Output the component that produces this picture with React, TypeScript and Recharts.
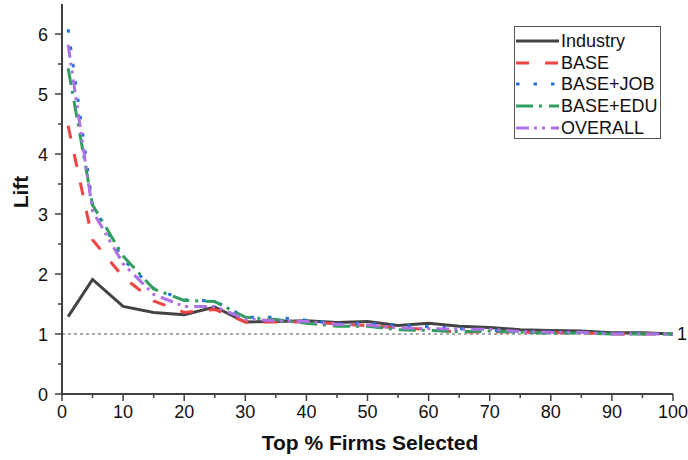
import React from "react";
import {
  LineChart,
  Line,
  XAxis,
  YAxis,
  ReferenceLine,
} from "recharts";

// top % of firms selected
const pct = [1, 5, 10, 15, 20, 25, 30, 35, 40, 45, 50, 55, 60, 65, 70, 75, 80, 85, 90, 95, 100];

const industry = [1.29, 1.91, 1.46, 1.36, 1.32, 1.45, 1.2, 1.21, 1.22, 1.19, 1.21, 1.14, 1.18, 1.13, 1.11, 1.07, 1.06, 1.05, 1.02, 1.02, 1.0];
const base = [4.47, 2.57, 1.95, 1.55, 1.36, 1.41, 1.2, 1.2, 1.2, 1.17, 1.14, 1.1, 1.08, 1.03, 1.04, 1.03, 1.02, 1.02, 1.0, 1.0, 1.0];
const baseJob = [6.08, 3.15, 2.24, 1.76, 1.57, 1.55, 1.28, 1.28, 1.23, 1.17, 1.18, 1.15, 1.12, 1.09, 1.06, 1.04, 1.03, 1.03, 1.02, 1.01, 1.0];
const baseEdu = [5.43, 3.15, 2.3, 1.75, 1.56, 1.54, 1.28, 1.24, 1.18, 1.13, 1.13, 1.07, 1.06, 1.04, 1.05, 1.03, 1.01, 1.02, 1.0, 1.0, 1.0];
const overall = [5.82, 3.05, 2.17, 1.66, 1.46, 1.46, 1.25, 1.22, 1.21, 1.16, 1.15, 1.1, 1.09, 1.08, 1.08, 1.04, 1.03, 1.03, 1.0, 1.0, 1.0];

const xTicks = [0, 5, 10, 15, 20, 25, 30, 35, 40, 45, 50, 55, 60, 65, 70, 75, 80, 85, 90, 95, 100];
const yTicks = [0, 0.5, 1, 1.5, 2, 2.5, 3, 3.5, 4, 4.5, 5, 5.5, 6];

const series = [
  { key: "industry", name: "Industry", color: "#434343", dash: undefined },
  { key: "base", name: "BASE", color: "#f04343", dash: "13 16" },
  { key: "baseJob", name: "BASE+JOB", color: "#2471e0", dash: "3.5 14" },
  { key: "baseEdu", name: "BASE+EDU", color: "#2f9e5e", dash: "17 6 3 7" },
  { key: "overall", name: "OVERALL", color: "#ad72e3", dash: "13 5 3 5 3 6" },
];

const data = pct.map((x, i) => ({
  x,
  industry: industry[i],
  base: base[i],
  baseJob: baseJob[i],
  baseEdu: baseEdu[i],
  overall: overall[i],
}));

const FONT = "'Liberation Sans', Arial, sans-serif";
const AXIS = "#404040";

const XTick = (props: any) => {
  const { x, y, payload } = props;
  const major = payload.value % 10 === 0;
  return (
    <g>
      <line x1={x} x2={x} y1={y} y2={y + (major ? 7 : 4)} stroke={AXIS} strokeWidth={1.5} />
      {major && (
        <text x={x} y={y + 24} textAnchor="middle" fontSize={18} fill="#111" fontFamily={FONT}>
          {payload.value}
        </text>
      )}
    </g>
  );
};

const YTick = (props: any) => {
  const { x, y, payload } = props;
  const major = payload.value % 1 === 0;
  return (
    <g>
      <line x1={x} x2={x - (major ? 7 : 4)} y1={y} y2={y} stroke={AXIS} strokeWidth={1.5} />
      {major && (
        <text x={x - 14} y={y + 6.5} textAnchor="end" fontSize={18} fill="#111" fontFamily={FONT}>
          {payload.value}
        </text>
      )}
    </g>
  );
};

function LegendBox() {
  return (
    <div
      style={{
        position: "absolute",
        left: 514,
        top: 26,
        width: 147,
        height: 113,
        border: "1px solid #555",
        background: "#fff",
        fontFamily: FONT,
        fontSize: 18,
        color: "#111",
        paddingTop: 3,
        boxSizing: "border-box",
      }}
    >
      {series.map((s) => (
        <div key={s.key} style={{ display: "flex", alignItems: "center", height: 21.7 }}>
          <svg width={46} height={10} style={{ display: "block" }}>
            <line
              x1={1}
              x2={44}
              y1={5}
              y2={5}
              stroke={s.color}
              strokeWidth={3}
              strokeDasharray={s.dash}
            />
          </svg>
          <span style={{ lineHeight: "18px" }}>{s.name}</span>
        </div>
      ))}
    </div>
  );
}

export default function App() {
  return (
    <div style={{ position: "absolute", left: 0, top: 0, width: 688, height: 460, background: "#fff" }}>
      <LineChart
        width={688}
        height={460}
        data={data}
        margin={{ top: 4, right: 15, bottom: 0, left: 0 }}
        style={{ fontFamily: FONT }}
      >
        <XAxis
          type="number"
          dataKey="x"
          domain={[0, 100]}
          ticks={xTicks}
          interval={0}
          height={66}
          tickSize={0}
          tickMargin={0}
          tickLine={false}
          axisLine={{ stroke: AXIS, strokeWidth: 2 }}
          tick={<XTick />}
        />
        <YAxis
          type="number"
          domain={[0, 6.5]}
          ticks={yTicks}
          interval={0}
          width={62}
          tickSize={0}
          tickMargin={0}
          tickLine={false}
          axisLine={{ stroke: AXIS, strokeWidth: 2 }}
          tick={<YTick />}
        />
        <ReferenceLine
          y={1}
          stroke="#555"
          strokeWidth={1}
          strokeDasharray="3 3"
          label={{ value: "1", position: "right", fill: "#111", fontSize: 18, fontFamily: FONT, offset: 4 }}
        />
        {series.map((s) => (
          <Line
            key={s.key}
            type="linear"
            dataKey={s.key}
            name={s.name}
            stroke={s.color}
            strokeWidth={3}
            strokeDasharray={s.dash}
            dot={false}
            activeDot={false}
            isAnimationActive={false}
          />
        ))}
      </LineChart>
      <svg
        width={688}
        height={460}
        style={{ position: "absolute", left: 0, top: 0, pointerEvents: "none" }}
      >
        <text
          x={370}
          y={450}
          textAnchor="middle"
          fontSize={21}
          fontWeight="bold"
          fill="#111"
          fontFamily={FONT}
        >
          Top % Firms Selected
        </text>
        <text
          x={28}
          y={192}
          textAnchor="middle"
          fontSize={21}
          fontWeight="bold"
          fill="#111"
          fontFamily={FONT}
          transform="rotate(-90 28 192)"
        >
          Lift
        </text>
      </svg>
      <LegendBox />
    </div>
  );
}
